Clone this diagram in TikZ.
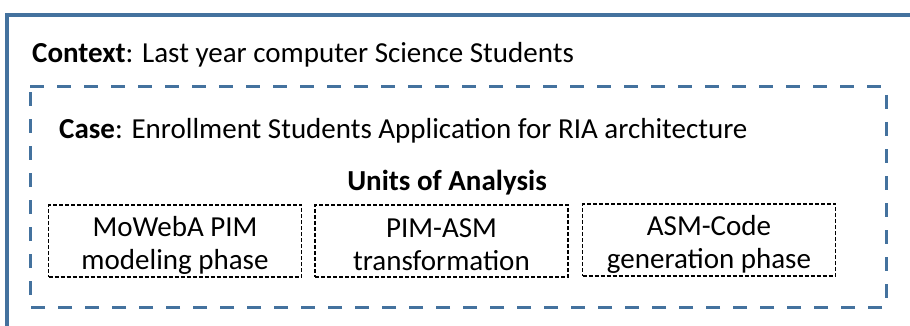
\documentclass[tikz,border=0pt]{standalone}
\usepackage{fontspec}
\setmainfont{Carlito}
\definecolor{frameblue}{RGB}{68,114,158}
\begin{document}
\begin{tikzpicture}[x=1pt,y=-1pt,
  label/.style={inner sep=0pt,font=\fontsize{29}{33}\selectfont},
  unitbox/.style={draw=black,line width=1.3pt,dash pattern=on 4pt off 2pt,
    minimum width=253pt,minimum height=72pt,inner sep=0pt},
  unittext/.style={inner sep=0pt,align=center,font=\fontsize{29}{33}\selectfont}]
\useasboundingbox (0,0) rectangle (910,326);
\clip (0,0) rectangle (910,326);
\fill[white] (0,0) rectangle (910,326);
% outer frame (context)
\draw[frameblue,line width=4pt] (7,15) rectangle (930,345);
\node[label,anchor=base west] (context) at (32,63) {\textbf{Context}: Last year computer Science Students};
% inner dashed frame (case)
\draw[frameblue,line width=3pt,dash pattern=on 14pt off 13pt] (30,87) -- (886,87) -- (886,307) -- (30,307) -- cycle;
\node[label,anchor=base west] (case) at (59,139) {\textbf{Case}: Enrollment Students Application for RIA architecture};
\node[label,anchor=base] (units) at (447,190) {\textbf{Units of Analysis}};
% units of analysis
\node[unitbox] (u1) at (175,241) {};
\node[unitbox] (u2) at (441.5,241) {};
\node[unitbox] (u3) at (709,240) {};
\node[unittext] (u1t) at ([yshift=-4pt]u1.center) {MoWebA PIM\\modeling phase};
\node[unittext] (u2t) at ([yshift=-4pt]u2.center) {PIM-ASM\\transformation};
\node[unittext] (u3t) at ([yshift=-4pt]u3.center) {ASM-Code\\generation phase};
\end{tikzpicture}
\end{document}
